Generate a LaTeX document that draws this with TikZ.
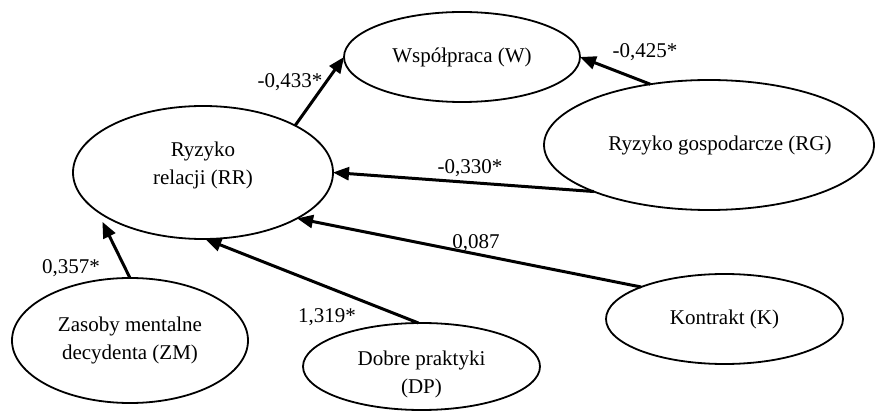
\documentclass[tikz,border=0pt]{standalone}
\usepackage{fontspec}
\setmainfont{Liberation Serif}
\usetikzlibrary{arrows.meta,shapes.geometric}
\newcommand\liftedlines[2]{\raisebox{#1}[\height][\depth]{\begin{tabular}{@{}c@{}}#2\end{tabular}}}
\begin{document}
\begin{tikzpicture}[x=1pt,y=-1pt,
  latent/.style={draw, ellipse, line width=1.8pt, inner sep=0pt, outer sep=0pt, align=center,
    font=\fontsize{21}{28}\selectfont},
  effect/.style={line width=3pt, -{Triangle[length=16pt,width=13pt]}},
  coef/.style={inner sep=0pt, font=\fontsize{21}{25}\selectfont}]
\useasboundingbox (0,0) rectangle (875,411);

\node[latent, minimum width=236pt, minimum height=90pt]  (W)  at (462,57)      {Współpraca (W)};
\node[latent, minimum width=260pt, minimum height=133pt] (RR) at (203,172.5)   {\liftedlines{8pt}{Ryzyko\\relacji (RR)}};
\node[latent, minimum width=330pt, minimum height=130pt] (RG) at (709,145)     {\hspace*{11pt}Ryzyko gospodarcze (RG)\hspace*{-11pt}};
\node[latent, minimum width=237pt, minimum height=90pt]  (K)  at (724.5,319)   {Kontrakt (K)};
\node[latent, minimum width=236pt, minimum height=125pt] (ZM) at (130,340.5)   {Zasoby mentalne\\decydenta (ZM)};
\node[latent, minimum width=237pt, minimum height=87pt]  (DP) at (421.5,366.5) {\liftedlines{-7pt}{Dobre praktyki\\(DP)}};

\draw[effect] (RR.27) -- (W.180);
\draw[effect] (RG.134) -- (W.0);
\draw[effect] (RG.202) -- (RR.0);
\draw[effect] (K.159) -- (RR.334);
\draw[effect, shorten >=12pt] (ZM.90) -- (RR.200);
\draw[effect] (DP.94) -- (RR.272);

\node[coef] (cRRW)  at (290,82)  {-0,433*};
\node[coef] (cRGW)  at (645,52)  {-0,425*};
\node[coef] (cRGRR) at (470,168) {-0,330*};
\node[coef] (cKRR)  at (476,243) {0,087};
\node[coef] (cZMRR) at (71,268)  {0,357*};
\node[coef] (cDPRR) at (327,317) {1,319*};
\end{tikzpicture}
\end{document}
